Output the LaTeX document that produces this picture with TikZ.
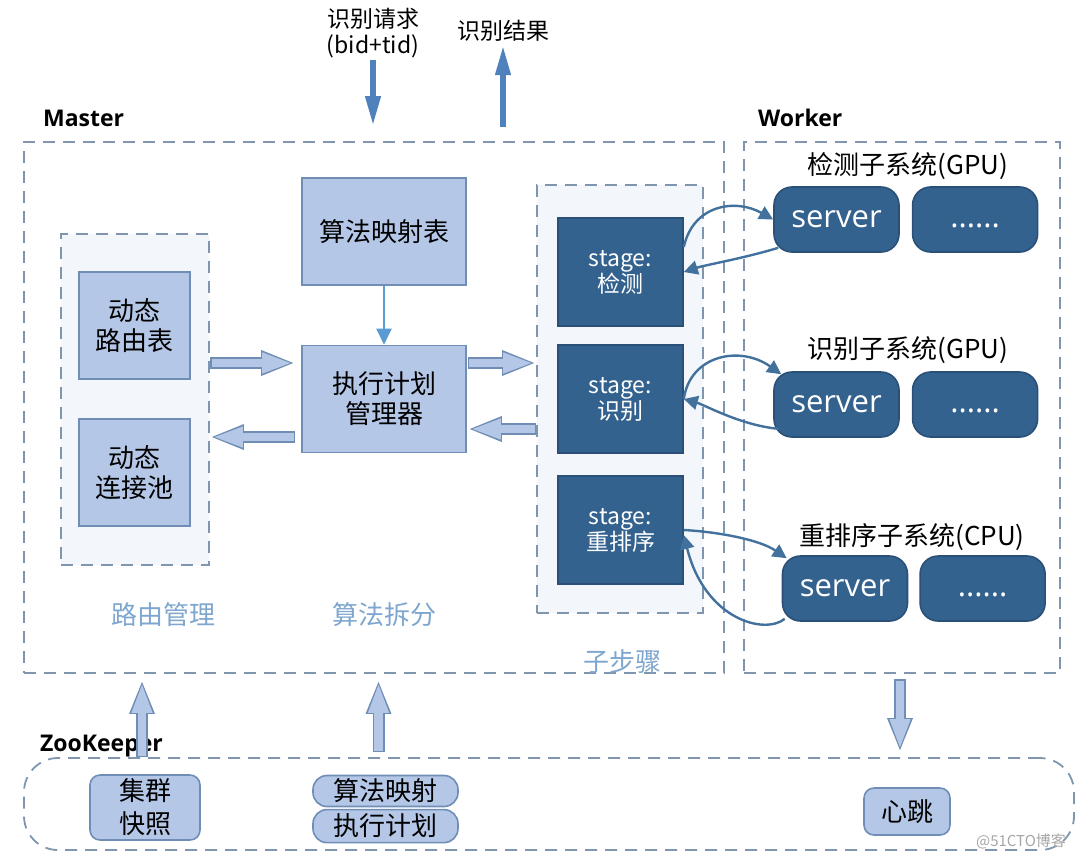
\documentclass[tikz,border=0pt]{standalone}
\usepackage{fontspec}
\setmainfont{Noto Sans CJK SC}
\newfontfamily\headfont{Open Sans}
\usetikzlibrary{positioning}
\usetikzlibrary{arrows.meta}
\definecolor{boxfill}{HTML}{B4C7E7}
\definecolor{boxline}{HTML}{6F8DB5}
\definecolor{stagefill}{HTML}{34628F}
\definecolor{stageline}{HTML}{2A5078}
\definecolor{dashline}{HTML}{7F96AE}
\definecolor{groupfill}{HTML}{F3F6FB}
\definecolor{reqblue}{HTML}{4F81BD}
\definecolor{thinblue}{HTML}{5B9BD5}
\definecolor{curveblue}{HTML}{41719C}
\definecolor{titleblue}{HTML}{7EA6CE}
\tikzset{basic/.style={draw=boxline,fill=boxfill,line width=0.8pt,align=center,inner sep=0pt,font=\fontsize{13}{15}\selectfont}}
\tikzset{tablebox/.style={basic,minimum width=55.5pt,minimum height=53.5pt}}
\tikzset{planbox/.style={basic,minimum width=82pt,minimum height=53.5pt}}
\tikzset{stagebox/.style={draw=stageline,fill=stagefill,text=white,line width=0.8pt,align=center,inner sep=0pt,minimum width=62.5pt,minimum height=54pt,font=\fontsize{11.5}{13}\selectfont}}
\tikzset{server/.style={stagebox,rounded corners=9pt,minimum height=32.5pt,font=\headfont\fontsize{15.5}{18}\selectfont}}
\tikzset{zkbox/.style={basic,rounded corners=5pt}}
\tikzset{group/.style={draw=dashline,line width=0.9pt,dash pattern=on 6pt off 4pt,inner sep=0pt}}
\tikzset{groupname/.style={text=titleblue,font=\fontsize{13}{15}\selectfont}}
\tikzset{subtitle/.style={font=\fontsize{13}{15}\selectfont}}
\tikzset{head/.style={font=\headfont\bfseries\fontsize{11.5}{13}\selectfont}}
\tikzset{solidarrow/.style={draw=reqblue,line width=3.25pt,-{Triangle[length=15.5pt,width=7pt]}}}
\tikzset{thinarrow/.style={draw=thinblue,line width=1pt,-{Triangle[length=8pt,width=7.5pt]}}}
\tikzset{curvearrow/.style={draw=curveblue,line width=1.2pt,-{Triangle[length=7pt,width=7pt]}}}
\tikzset{hollow/.style={draw=boxfill,line width=4.4pt,shorten <=0.8pt,shorten >=1.3pt,-{Triangle[length=15.2pt,width=9.3pt]},
    preaction={draw=boxline,line width=6pt,shorten <=0pt,shorten >=0pt,-{Triangle[length=17pt,width=11.5pt]}}}}

\begin{document}
\begin{tikzpicture}[x=0.5pt,y=-0.5pt]
        \useasboundingbox (0,0) rectangle (1080,859);
        % groups
        \node[group,minimum width=350pt,minimum height=265.5pt] (master) at (374,407.5) {};
        \node[group,minimum width=158pt,minimum height=265.5pt] (worker) at (902,407.5) {};
        \node[group,fill=groupfill,minimum width=74pt,minimum height=165.5pt] (routing) at (135,399.5) {};
        \node[group,fill=groupfill,minimum width=83pt,minimum height=214pt] (steps) at (620,399) {};
        \node[group,rounded corners=17pt,minimum width=525pt,minimum height=46pt] (zk) at (549,804) {};
        \node[head,anchor=west] (mastername) at (36,118) {Master};
        \node[head,anchor=west] (workername) at (751,118) {Worker};
        \node[head,anchor=west] (zkname) at (33,746) {ZooKeeper};
        \node[groupname] (routingname) at (163,615) {路由管理};
        \node[groupname] (splitname) at (384,615) {算法拆分};
        \node[groupname] (stepsname) at (622,662) {子步骤};
        % master
        \node[tablebox] (route) at (134.5,325.5) {动态\\路由表};
        \node[tablebox] (pool) at (134.5,472.5) {动态\\连接池};
        \node[planbox] (algmap) at (384,231.5) {算法映射表};
        \node[planbox] (planner) at (384,399) {执行计划\\管理器};
            \path[thinarrow] (algmap) -- (planner);
        \node[stagebox] (s1) at (620.5,272) {stage:\\检测};
        \node[stagebox] (s2) at (620.5,399) {stage:\\识别};
        \node[stagebox] (s3) at (620.5,530) {stage:\\重排序};
        \coordinate (in1) at ([yshift=18pt]planner.west);
        \coordinate (in2) at ([yshift=-19pt]planner.west);
        \coordinate (out1) at ([yshift=18pt]planner.east);
        \coordinate (out2) at ([yshift=-15pt]planner.east);
            \path[hollow] (routing.east |- in1) -- ([xshift=-3pt]in1);
            \path[hollow] ([xshift=-3pt]in2) -- (routing.east |- in2);
            \path[hollow] ([xshift=0.5pt]out1) -- (steps.west |- out1);
            \path[hollow] (steps.west |- out2) -- ([xshift=0.5pt]out2);
        % request and result
        \node[align=center,inner sep=1pt,font=\fontsize{11.5}{13}\selectfont] (reqtext) at (373,33) {识别请求\\(bid+tid)};
        \node[inner sep=1pt,font=\fontsize{11.5}{13}\selectfont] (restext) at (503,31) {识别结果};
        \coordinate (reqend) at (reqtext.south |- master.north);
        \coordinate (resstart) at (restext.south |- master.north);
            \path[solidarrow] (reqtext.south) -- ([yshift=7pt]reqend);
            \path[solidarrow] ([yshift=7pt]resstart) -- (restext.south);
        % worker
        \node[subtitle] (dettitle) at (908,166) {检测子系统(GPU)};
        \node[server] (srv1) at (836.5,219.5) {server};
        \node[server,right=6pt of srv1] (more1) {\vphantom{server}......};
        \node[subtitle] (rectitle) at (908,350) {识别子系统(GPU)};
        \node[server] (srv2) at (836.5,404.5) {server};
        \node[server,right=6pt of srv2] (more2) {\vphantom{server}......};
        \node[subtitle] (ranktitle) at (912,537) {重排序子系统(CPU)};
        \node[server] (srv3) at (845,588.5) {server};
        \node[server,right=5.5pt of srv3] (more3) {\vphantom{server}......};
            \draw[curvearrow] ([yshift=12.5pt]s1.east) .. controls (693,205) and (735,198) .. (srv1.west);
            \draw[curvearrow] ([xshift=2.5pt,yshift=2.5pt]srv1.south west) .. controls (745,258) and (705,265) .. (s1.east);
            \draw[curvearrow] (s2.east) .. controls (690,355) and (740,345) .. ([xshift=4pt,yshift=-1.5pt]srv2.north west);
            \draw[curvearrow] ([xshift=2.5pt,yshift=4.5pt]srv2.south west) .. controls (740,425) and (705,405) .. (s2.east);
            \draw[curvearrow] (s3.east) .. controls (720,532) and (760,540) .. ([xshift=2.5pt,yshift=-1.5pt]srv3.north west);
            \draw[curvearrow] ([xshift=1.5pt,yshift=1.5pt]srv3.south west) .. controls (765,635) and (705,620) .. ([yshift=-2.5pt]s3.east);
        % zookeeper
        \node[zkbox,minimum width=55pt,minimum height=32.5pt,font=\fontsize{13}{16.5}\selectfont] (zk1) at (145,807.5) {集群\\快照};
        \node[zkbox,rounded corners=7pt,minimum width=72.5pt,minimum height=15.5pt] (zk2) at (385.5,791) {算法映射};
        \node[zkbox,rounded corners=7pt,below=0.75pt of zk2,minimum width=72.5pt,minimum height=16.5pt] (zk3) {执行计划};
        \node[zkbox,minimum width=43pt,minimum height=23.5pt] (zk4) at (907,811.5) {心跳};
        \node[text=gray!70,font=\fontsize{7.5}{9}\selectfont] (mark) at (1021,841) {@51CTO博客};
        \coordinate (up1) at ([xshift=-1.5pt]zk1.north |- master.south);
        \coordinate (up2) at ([xshift=-3.5pt]zk2.north |- master.south);
        \coordinate (down1) at ([xshift=-3.5pt]zk4.north |- worker.south);
        \coordinate (down2) at ([xshift=-3.5pt]zk4.north |- zk.north);
            \path[hollow] (up1 |- zk.north) -- ([yshift=-3pt]up1);
            \path[hollow] ([yshift=2.5pt]up2 |- zk.north) -- ([yshift=-3pt]up2);
            \path[hollow] ([yshift=-2.5pt]down1) -- ([yshift=2.5pt]down2);
\end{tikzpicture}
\end{document}
